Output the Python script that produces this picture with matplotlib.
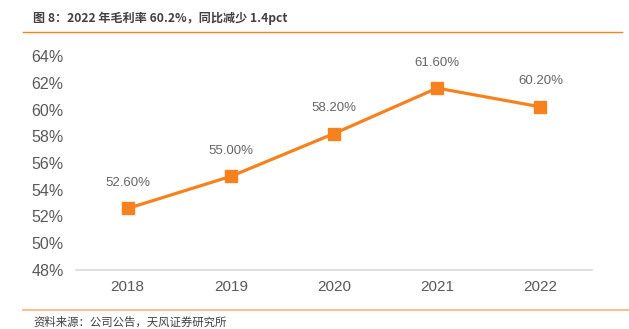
import matplotlib
matplotlib.use("Agg")
import matplotlib.pyplot as plt
from matplotlib.lines import Line2D

years = ["2018", "2019", "2020", "2021", "2022"]
gross_margin = [52.6, 55.0, 58.2, 61.6, 60.2]
value_labels = ["52.60%", "55.00%", "58.20%", "61.60%", "60.20%"]
yticks = [48, 50, 52, 54, 56, 58, 60, 62, 64]
ytick_labels = ["48%", "50%", "52%", "54%", "56%", "58%", "60%", "62%", "64%"]

title = "图 8：2022 年毛利率 60.2%，同比减少 1.4pct"
source = "资料来源：公司公告，天风证券研究所"

ORANGE = "#F5821F"
GRAY = "#595959"
CJK = ["Noto Sans CJK SC", "DejaVu Sans"]
NUM = ["Liberation Sans", "DejaVu Sans"]

W, H = 629, 329
fig = plt.figure(figsize=(W / 100, H / 100), dpi=100)

ax = fig.add_axes([76 / W, 1 - 270 / H, (592 - 76) / W, (270 - 56) / H])
x = list(range(len(years)))
ax.plot(x, gross_margin, color=ORANGE, lw=2.3, marker="s", ms=8, mec=ORANGE, mfc=ORANGE, zorder=3)
for xi, v, lab in zip(x, gross_margin, value_labels):
    ax.annotate(lab, (xi, v), xytext=(0, 14), textcoords="offset points",
                ha="center", va="bottom", fontsize=9.5, color="#666666", family=NUM)

ax.set_xlim(-0.5, len(years) - 0.5)
ax.set_ylim(48, 64)
ax.set_yticks(yticks)
ax.set_yticklabels(ytick_labels, family=NUM, fontsize=11.5, color=GRAY)
ax.set_xticks(x)
ax.set_xticklabels(years, family=NUM, fontsize=11, color=GRAY)
ax.tick_params(length=0)
ax.tick_params(axis="x", pad=7)
ax.tick_params(axis="y", pad=9)
for s in ["top", "right", "left"]:
    ax.spines[s].set_visible(False)
ax.spines["bottom"].set_color("#D9D9D9")
ax.spines["bottom"].set_linewidth(1.2)
ax.set_facecolor("none")

fig.text(33 / W, 1 - 18 / H, title, fontsize=8.7, fontweight="bold", color="#404040",
         family=CJK, ha="left", va="center")
fig.add_artist(Line2D([23 / W, 622 / W], [1 - 32 / H, 1 - 32 / H], color=ORANGE, lw=1.0,
                      transform=fig.transFigure))
fig.add_artist(Line2D([23 / W, 629 / W], [1 - 310 / H, 1 - 310 / H], color="#FAC090", lw=1.5,
                      transform=fig.transFigure))
fig.text(33 / W, 1 - 322 / H, source, fontsize=8.2, color="#404040",
         family=CJK, ha="left", va="center")

fig.savefig("out.png", dpi=100)
